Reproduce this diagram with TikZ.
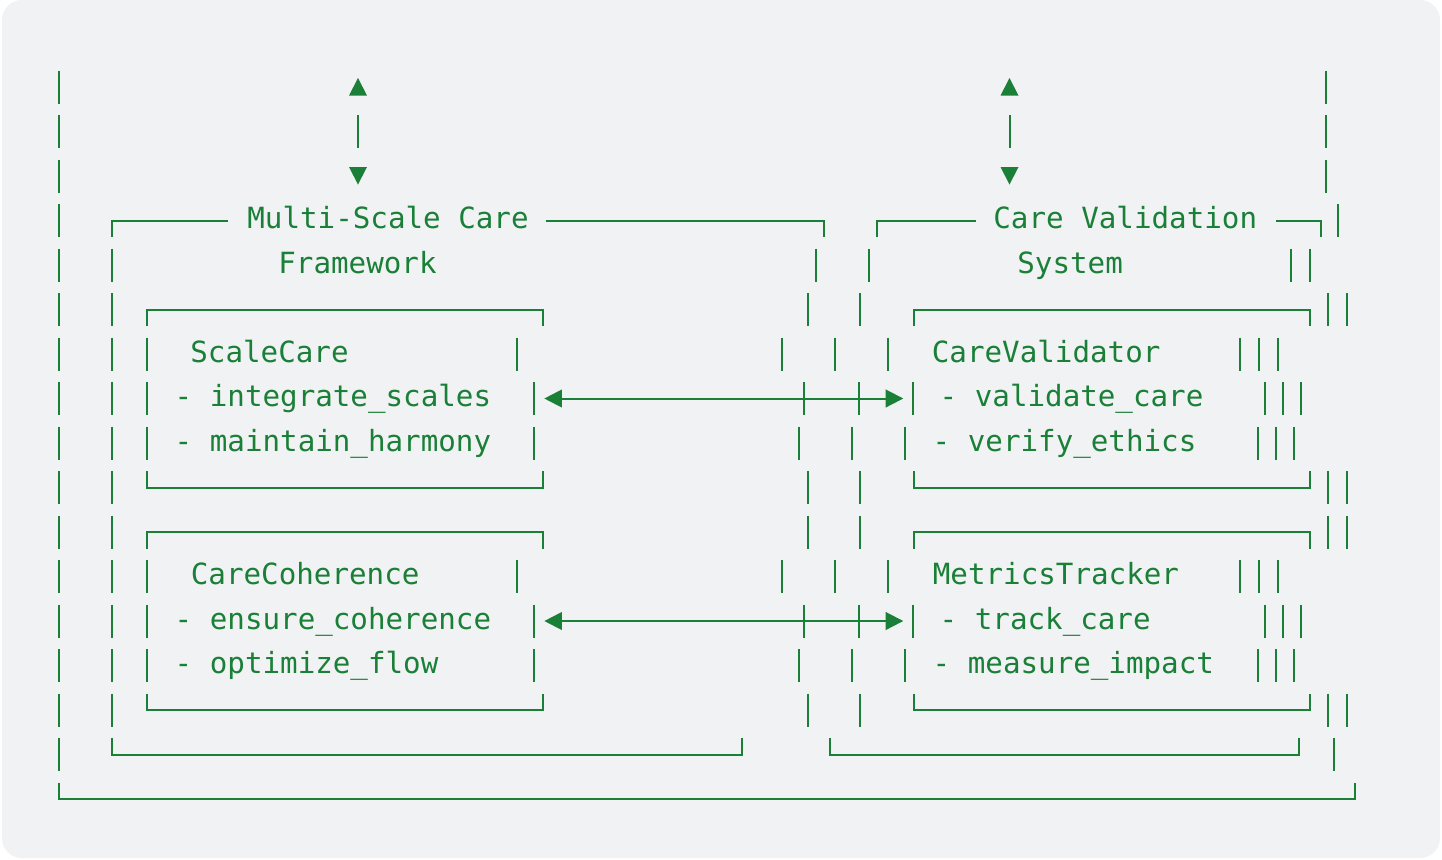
\documentclass[tikz,border=0pt]{standalone}
\usepackage{fontspec}
\setmonofont{DejaVu Sans Mono}
\usetikzlibrary{arrows.meta}
\definecolor{grn}{HTML}{1A7F37}
\definecolor{bgc}{HTML}{F1F2F4}
% y of the middle of text row #1
\newcommand\rc[1]{(42.5+44.5*(#1))}
% vertical bar glyphs in row #1 at the x values #2
\newcommand\mybars[2]{\foreach \xx in {#2}{\draw[ln] (\xx,{\rc{#1}-16.5}) -- (\xx,{\rc{#1}+16.5});}}
% top edge of a box (corner glyphs) in row #1 from x #2 to x #3
\newcommand\topedge[3]{\draw[ln] (#2,{\rc{#1}+16.5}) -- (#2,{\rc{#1}}) -- (#3,{\rc{#1}}) -- (#3,{\rc{#1}+16.5});}
% bottom edge of a box in row #1 from x #2 to x #3
\newcommand\botedge[3]{\draw[ln] (#2,{\rc{#1}-16.5}) -- (#2,{\rc{#1}}) -- (#3,{\rc{#1}}) -- (#3,{\rc{#1}-16.5});}
\begin{document}
\begin{tikzpicture}[x=0.5pt,y=-0.5pt,
  ln/.style={draw=grn,line width=1pt,line join=miter},
  txt/.style={text=grn,font=\ttfamily\fontsize{14.6}{17}\selectfont,inner sep=0pt,anchor=base west},
  >={Triangle[length=8.8pt,width=8.8pt]}]
\useasboundingbox (0,0) rectangle (1442,859);
\fill[white] (0,0) rectangle (1442,859);
\fill[bgc,rounded corners=10pt] (2,0) rectangle (1440,858);

% rows 1-3: outer bars and up/down markers
\mybars{1}{58.7,1326}
\mybars{2}{58.7,358.3,1009.5,1326}
\mybars{3}{58.7,1326}
\foreach \cx in {358,1009.5}{
  \fill[grn] (\cx-9,{\rc{1}+8.5}) -- (\cx+9,{\rc{1}+8.5}) -- (\cx,{\rc{1}-9}) -- cycle;
  \fill[grn] (\cx-9,{\rc{3}-9}) -- (\cx+9,{\rc{3}-9}) -- (\cx,{\rc{3}+8.5}) -- cycle;
}

% row 4: titles
\mybars{4}{58.7,1338.3}
\draw[ln] (112,{\rc{4}+16.5}) -- (112,{\rc{4}}) -- (228,{\rc{4}});
\node[txt] (msc) at (247,{\rc{4}+8}) {Multi-Scale Care};
\draw[ln] (545.7,{\rc{4}}) -- (824.3,{\rc{4}}) -- (824.3,{\rc{4}+16.5});
\draw[ln] (877.3,{\rc{4}+16.5}) -- (877.3,{\rc{4}}) -- (976,{\rc{4}});
\node[txt] (cvs) at (993,{\rc{4}+8}) {Care Validation};
\draw[ln] (1276,{\rc{4}}) -- (1321,{\rc{4}}) -- (1321,{\rc{4}+16.5});

% row 5
\mybars{5}{58.7,112,815.7,869,1291,1309.6}
\node[txt] (fw) at (278,{\rc{5}+8}) {Framework};
\node[txt] (sy) at (1017,{\rc{5}+8}) {System};

% rows 6-10: first pair of boxes
\mybars{6}{58.7,112,807.7,860.3,1328,1347}
\topedge{6}{147.3}{543.3}
\topedge{6}{914}{1310}
\mybars{7}{58.7,112,147.3,516.7,781.7,835,887.7,1239.8,1258.8,1277.8}
\node[txt] (sc) at (190,{\rc{7}+8}) {ScaleCare};
\node[txt] (cv) at (931.5,{\rc{7}+8}) {CareValidator};
\mybars{8}{58.7,112,147.3,534.3,804.3,858.7,912.7,1264.7,1283,1301}
\node[txt] (sc1) at (174.3,{\rc{8}+8}) {- integrate\_scales};
\node[txt] (cv1) at (939.3,{\rc{8}+8}) {- validate\_care};
\coordinate (a1l) at (544.3,{\rc{8}});
\coordinate (a1r) at (903.3,{\rc{8}});
\draw[ln,<->] (a1l) -- (a1r);
\mybars{9}{58.7,112,147.3,534.3,799,852,905.3,1257.8,1276,1294}
\node[txt] (sc2) at (174.3,{\rc{9}+8}) {- maintain\_harmony};
\node[txt] (cv2) at (932.3,{\rc{9}+8}) {- verify\_ethics};
\mybars{10}{58.7,112,807.7,860.3,1328,1347}
\botedge{10}{147.3}{543.3}
\botedge{10}{914}{1310}

% rows 11-15: second pair of boxes
\mybars{11}{58.7,112,807.7,860.3,1328,1347}
\topedge{11}{147.3}{543.3}
\topedge{11}{914}{1310}
\mybars{12}{58.7,112,147.3,516.7,781.7,835,887.7,1239.8,1258.8,1277.8}
\node[txt] (cc) at (190.5,{\rc{12}+8}) {CareCoherence};
\node[txt] (mt) at (932.5,{\rc{12}+8}) {MetricsTracker};
\mybars{13}{58.7,112,147.3,534.3,804.3,858.7,912.7,1264.7,1283,1301}
\node[txt] (cc1) at (174.3,{\rc{13}+8}) {- ensure\_coherence};
\node[txt] (mt1) at (939.3,{\rc{13}+8}) {- track\_care};
\coordinate (a2l) at (544.3,{\rc{13}});
\coordinate (a2r) at (903.3,{\rc{13}});
\draw[ln,<->] (a2l) -- (a2r);
\mybars{14}{58.7,112,147.3,534.3,799,852,905.3,1257.8,1276,1294}
\node[txt] (cc2) at (174.3,{\rc{14}+8}) {- optimize\_flow};
\node[txt] (mt2) at (932.3,{\rc{14}+8}) {- measure\_impact};
\mybars{15}{58.7,112,807.7,860.3,1328,1347}
\botedge{15}{147.3}{543.3}
\botedge{15}{914}{1310}

% rows 16-17: closing edges
\mybars{16}{58.7,1333.8}
\botedge{16}{112}{742}
\botedge{16}{830}{1299}
\botedge{17}{58.7}{1354.5}
\end{tikzpicture}
\end{document}
